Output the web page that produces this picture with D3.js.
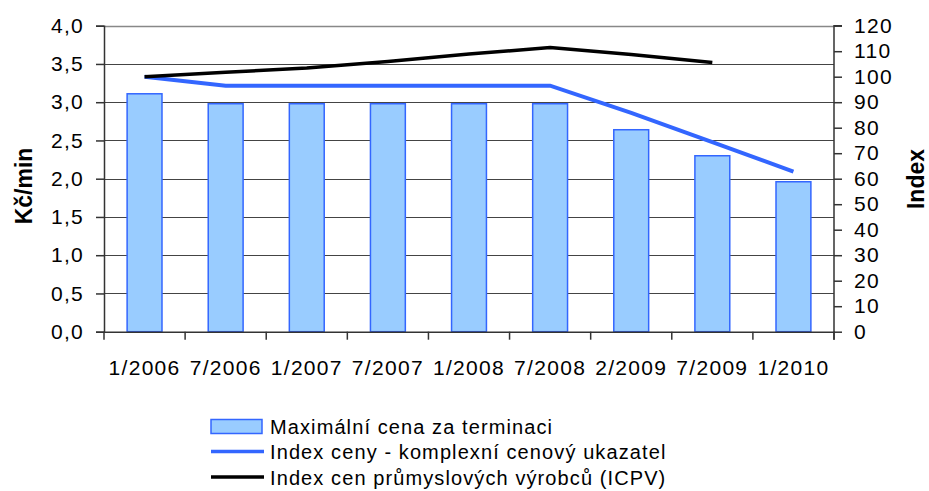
<!DOCTYPE html>
<html>
<head>
<meta charset="utf-8">
<script src="https://cdn.jsdelivr.net/npm/d3@7"></script>
<style>
    body { margin: 0; background: #fff; }
    text { font-family: "Liberation Sans", Arial, sans-serif; fill: #000; }
</style>
</head>
<body>
<svg width="929" height="491" viewBox="0 0 929 491"></svg>
<script>
// Data
const categories = ["1/2006", "7/2006", "1/2007", "7/2007", "1/2008", "7/2008", "2/2009", "7/2009", "1/2010"];
const maxPrice = [3.11, 2.98, 2.98, 2.98, 2.98, 2.98, 2.64, 2.30, 1.96];
const priceIndex = [100, 96.5, 96.5, 96.5, 96.5, 96.5, 85.8, 74.3, 62.8];
const icpv = [100, 101.7, 103.4, 106.0, 108.9, 111.4, 108.7, 105.6, null];

const leftTicks = d3.range(0, 4.01, 0.5);
const rightTicks = d3.range(0, 121, 10);

const legendItems = [
    { label: "Maximální cena za terminaci", type: "bar" },
    { label: "Index ceny - komplexní cenový ukazatel", type: "line", color: "#3366ff" },
    { label: "Index cen průmyslových výrobců (ICPV)", type: "line", color: "#000" }
];

const svg = d3.select("svg");
const plot = { left: 104, right: 834, top: 25.7, bottom: 331.7 };

// Scales
const x = d3.scaleBand().domain(categories).range([plot.left, plot.right]);
const yLeft = d3.scaleLinear().domain([0, 4]).range([plot.bottom, plot.top]);
const yRight = d3.scaleLinear().domain([0, 120]).range([plot.bottom, plot.top]);

const fmt = d => d3.format(".1f")(d).replace(".", ",");

// Gridlines
svg.append("g")
    .selectAll("line")
    .data(leftTicks.filter(d => d > 0))
    .enter()
    .append("line")
    .attr("x1", plot.left)
    .attr("x2", plot.right)
    .attr("y1", d => Math.round(yLeft(d)) + 0.5)
    .attr("y2", d => Math.round(yLeft(d)) + 0.5)
    .attr("stroke", d => d === 4 ? "#888" : "#444")
    .attr("stroke-width", d => d === 4 ? 1.5 : 1);

// Bars
const barW = x.bandwidth() * 0.43;
svg.append("g")
    .selectAll("rect")
    .data(maxPrice)
    .enter()
    .append("rect")
    .attr("x", (d, i) => x(categories[i]) + (x.bandwidth() - barW) / 2)
    .attr("y", d => yLeft(d))
    .attr("width", barW)
    .attr("height", d => plot.bottom - yLeft(d))
    .attr("fill", "#99ccff")
    .attr("stroke", "#3366ff")
    .attr("stroke-width", 1.5);

// Lines
const cx = i => x(categories[i]) + x.bandwidth() / 2;
const line = d3.line()
    .defined(d => d != null)
    .x((d, i) => cx(i))
    .y(d => yRight(d));

svg.append("path")
    .datum(priceIndex)
    .attr("d", line)
    .attr("fill", "none")
    .attr("stroke", "#3366ff")
    .attr("stroke-width", 4);

svg.append("path")
    .datum(icpv)
    .attr("d", line)
    .attr("fill", "none")
    .attr("stroke", "#000")
    .attr("stroke-width", 3.5);

// Left axis
const leftAxis = svg.append("g")
    .attr("transform", `translate(${plot.left},0)`)
    .call(d3.axisLeft(yLeft).tickValues(leftTicks).tickFormat(fmt).tickSize(8).tickPadding(12));

// Right axis
const rightAxis = svg.append("g")
    .attr("transform", `translate(${plot.right},0)`)
    .call(d3.axisRight(yRight).tickValues(rightTicks).tickSize(8).tickPadding(12));

// Bottom axis
const bottomAxis = svg.append("g")
    .attr("transform", `translate(0,${plot.bottom})`)
    .call(d3.axisBottom(x).tickSize(0).tickPadding(28));

// Category boundary ticks
svg.append("g")
    .selectAll("line")
    .data(d3.range(categories.length + 1))
    .enter()
    .append("line")
    .attr("x1", i => plot.left + i * x.step())
    .attr("x2", i => plot.left + i * x.step())
    .attr("y1", plot.bottom)
    .attr("y2", plot.bottom + 8)
    .attr("stroke", "#333")
    .attr("stroke-width", 1.5);

[leftAxis, rightAxis, bottomAxis].forEach(g => {
    g.select(".domain").attr("stroke", "#333").attr("stroke-width", 1.5);
    g.selectAll(".tick line").attr("stroke", "#333").attr("stroke-width", 1.5);
    g.selectAll(".tick text")
        .style("font-family", "'Liberation Sans', Arial, sans-serif")
        .style("font-size", "21px")
        .style("letter-spacing", "1.3px")
        .attr("fill", "#000");
});
rightAxis.select(".domain").attr("d", `M8,${plot.top}H0V${plot.bottom + 8}`);

// Axis titles
svg.append("text")
    .attr("transform", "translate(32,186) rotate(-90)")
    .attr("text-anchor", "middle")
    .style("font-size", "23px")
    .style("font-weight", "bold")
    .text("Kč/min");

svg.append("text")
    .attr("transform", "translate(924,179) rotate(-90)")
    .attr("text-anchor", "middle")
    .style("font-size", "23px")
    .style("font-weight", "bold")
    .text("Index");

// Legend
const legend = svg.append("g").attr("transform", "translate(211,426)");
const rows = legend.selectAll("g")
    .data(legendItems)
    .enter()
    .append("g")
    .attr("transform", (d, i) => `translate(0,${i * 25.5})`);

rows.filter(d => d.type === "bar")
    .append("rect")
    .attr("x", 0)
    .attr("y", -6.5)
    .attr("width", 51)
    .attr("height", 14)
    .attr("fill", "#99ccff")
    .attr("stroke", "#3366ff")
    .attr("stroke-width", 1.5);

rows.filter(d => d.type === "line")
    .append("line")
    .attr("x1", 0)
    .attr("x2", 53)
    .attr("y1", 0)
    .attr("y2", 0)
    .attr("stroke", d => d.color)
    .attr("stroke-width", 3.5);

rows.append("text")
    .attr("x", 59)
    .attr("y", 7.5)
    .style("font-size", "20px")
    .style("letter-spacing", "1.1px")
    .text(d => d.label);
</script>
</body>
</html>
